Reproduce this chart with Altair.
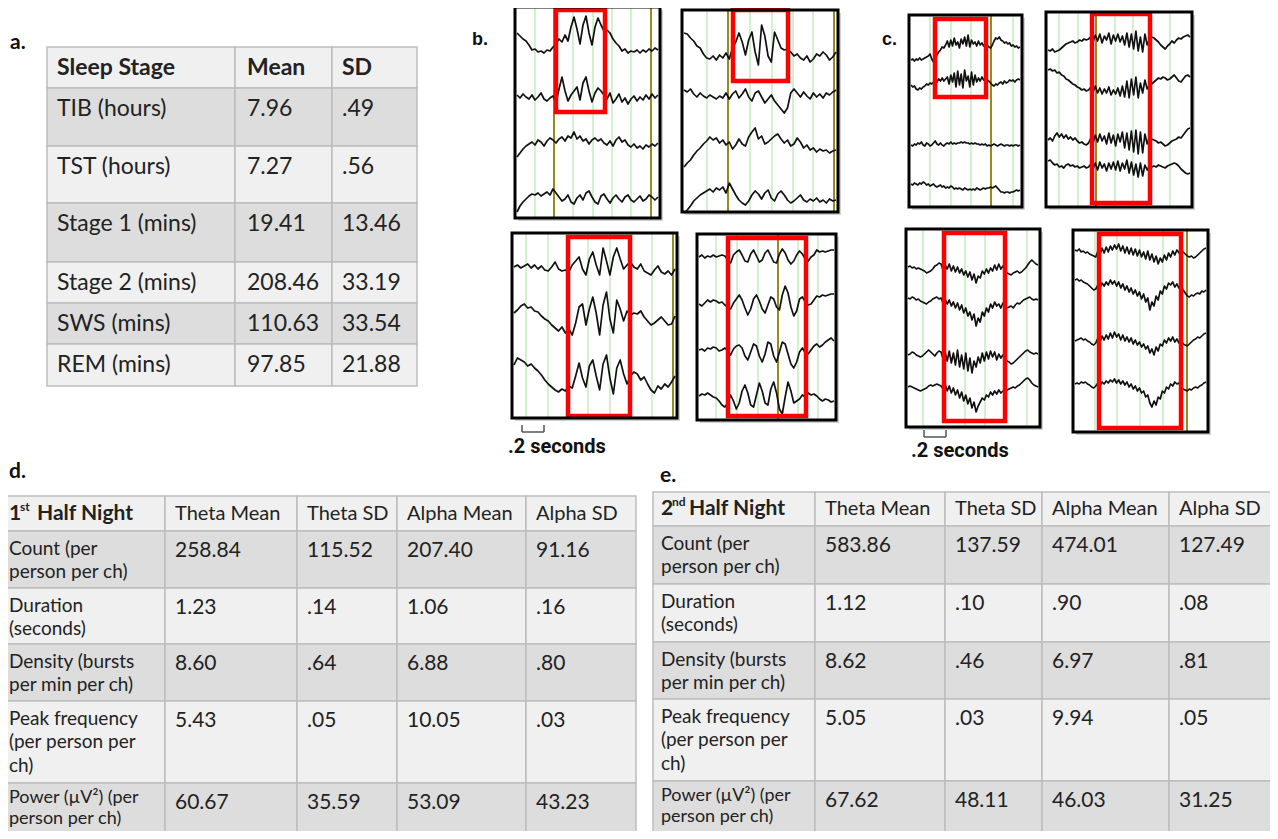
import altair as alt
import pandas as pd
import numpy as np

# ---------------- data: tables ----------------
stage_names = ["TIB (hours)", "TST (hours)", "Stage 1 (mins)", "Stage 2 (mins)", "SWS (mins)", "REM (mins)"]
stage_means = ["7.96", "7.27", "19.41", "208.46", "110.63", "97.85"]
stage_sds = [".49", ".56", "13.46", "33.19", "33.54", "21.88"]
table_a_header = ["Sleep Stage", "Mean", "SD"]

burst_header = ["Theta Mean", "Theta SD", "Alpha Mean", "Alpha SD"]
burst_metrics = ["Count (per\nperson per ch)", "Duration\n(seconds)", "Density (bursts\nper min per ch)",
                 "Peak frequency\n(per person per\nch)", "Power (\u00b5V\u00b2) (per\nperson per ch)"]
h1_theta_mean = ["258.84", "1.23", "8.60", "5.43", "60.67"]
h1_theta_sd = ["115.52", ".14", ".64", ".05", "35.59"]
h1_alpha_mean = ["207.40", "1.06", "6.88", "10.05", "53.09"]
h1_alpha_sd = ["91.16", ".16", ".80", ".03", "43.23"]
h2_theta_mean = ["583.86", "1.12", "8.62", "5.05", "67.62"]
h2_theta_sd = ["137.59", ".10", ".46", ".03", "48.11"]
h2_alpha_mean = ["474.01", ".90", "6.97", "9.94", "46.03"]
h2_alpha_sd = ["127.49", ".08", ".81", ".05", "31.25"]

# ---------------- data: EEG traces (amplitude, positive = up) ----------------
bTL_1 = [14,11,8,6,2,-3,-2,-5,-4,-6,-3,-4,0,3,8,5,12,6,20,30,18,3,22,31,14,2,20,29,22,16,17,14,8,4,1,-4,-2,-6,-4,-5,-3,-6,-3,-5,-2,-4,-1,-3]
bTL_2 = [2,-1,3,0,-2,2,-3,0,4,-2,-4,-1,1,-6,8,20,6,-4,2,6,10,-3,14,20,6,-5,4,9,6,2,-2,4,-6,-2,3,-5,-1,-7,-2,1,-4,0,-3,2,-2,3,-1,2]
bTL_3 = [-14,-10,-6,-3,-1,1,-2,3,1,-3,2,5,3,0,4,6,2,7,5,11,4,7,2,4,-1,3,5,2,4,0,-2,2,-3,3,6,1,3,-2,-4,-1,-5,-3,-6,-2,-4,-1,-3,0]
bTL_4 = [-14,-8,-4,-1,2,4,3,5,2,4,6,3,9,5,1,-3,-1,3,-4,-6,0,3,-2,5,7,1,-4,-6,2,4,-1,-5,0,3,-1,-4,1,3,-2,-4,-1,2,-3,-1,3,1,-2,1]

bTR_1 = [17,16,12,9,4,2,-4,-8,-9,-6,-10,-5,-8,-3,-9,2,8,17,8,-5,10,18,-2,-15,25,14,-6,-12,18,10,2,0,1,-2,-6,-4,-8,-10,-6,-12,-9,-4,-6,-2,-5,-10,-7,-2]
bTR_2 = [5,3,6,1,-2,2,-1,-3,0,-2,-4,-1,-3,2,-4,1,4,-3,1,6,-2,-6,2,4,-2,-8,-4,0,-6,-10,-14,-18,-13,2,6,2,-2,3,-1,-4,2,-2,1,-3,2,0,3,5]
bTR_3 = [-20,-16,-13,-8,-4,-1,3,6,10,7,9,4,7,2,5,-2,2,8,3,1,10,15,19,8,11,3,5,8,11,13,8,4,7,1,3,9,5,-1,2,-3,-1,-5,-2,-4,-3,-6,-4,-3]
bTR_4 = [-16,-13,-9,-4,-1,2,4,6,8,5,9,7,10,4,14,8,2,-3,-6,-8,-4,2,6,3,-2,4,7,-1,-4,3,6,2,-3,-6,-4,-1,2,-3,-5,-2,-4,-1,-5,-3,-6,-2,-4,-3]

bBL_1 = [0,2,-1,1,3,-1,2,-2,1,-3,-4,0,5,-2,-4,-3,-5,2,6,10,-2,-8,8,15,2,-8,19,6,-8,10,19,8,-2,2,5,0,-2,3,-4,-6,-8,-3,1,-5,-7,-4,-8,-2]
bBL_2 = [2,5,9,11,7,8,4,3,-1,-4,-6,-10,-13,-16,-12,-18,-14,-20,-8,8,11,-10,6,18,2,-20,10,23,-4,-18,15,6,-6,4,0,2,1,4,-2,-6,-10,-8,-5,-2,-6,-10,-9,-1]
bBL_3 = [7,14,12,10,6,8,4,1,-3,-8,-12,-15,-18,-20,-17,-19,-14,-16,-4,9,-6,-15,6,12,-4,-18,8,17,-6,-22,4,12,-2,-12,-4,0,-2,-8,-5,-12,-18,-21,-14,-17,-12,-15,-10,-4]

bBR_1 = [0,2,-1,1,0,2,0,1,2,1,-3,-6,2,5,7,2,-4,-5,3,7,1,-5,-3,4,7,1,-5,-6,3,8,4,-3,-7,-4,2,6,3,-2,-4,0,2,7,5,6,5,6,7,7]
bBR_2 = [-1,-3,0,3,1,3,2,0,1,-2,-4,-6,0,4,8,3,-5,-12,-6,4,8,2,-6,-10,-2,6,4,-4,-7,8,17,10,-4,-13,-8,4,6,1,-2,-1,3,7,6,8,7,8,9,9]
bBR_3 = [0,1,-1,2,1,3,2,-1,0,2,-1,-5,1,4,5,2,-6,-10,-2,6,4,-6,-12,-4,8,6,-6,-12,-2,8,6,-4,-14,-18,-12,-2,2,-3,-4,0,4,6,3,5,8,10,12,9]
bBR_4 = [1,3,2,4,2,0,-1,-4,-8,-10,-6,2,-4,-12,-6,6,12,4,-8,-10,2,14,6,-6,-8,8,15,4,-12,-17,0,15,6,-6,-4,-2,2,0,4,2,3,1,-2,-4,-2,-3,-5,-4]

cTL_1 = [-5,-4,-6,-4,-5,-3,-5,-4,-3,-2,-1,1,-4,-7,-3,0,3,5,8,7,10,14,8,15,9,17,10,13,7,16,11,18,9,20,8,15,11,13,9,14,10,12,9,11,10,8,7,10,14,17,16,18,15,14,12,13,11,12,9,10,8,9,7,8]
cTL_2 = [-2,-4,-3,-6,-7,-5,-6,-4,-3,-1,-2,0,-1,1,3,1,4,2,5,2,4,6,-1,8,1,10,-4,12,-2,9,-5,13,2,7,-4,11,-2,8,1,5,2,6,3,4,3,2,0,-2,-3,-1,-2,0,1,-1,2,0,1,3,2,3,1,3,4,3]
cTL_3 = [0,-1,1,0,2,1,3,0,-1,2,1,-1,0,2,4,1,0,2,0,-1,1,2,1,3,1,2,1,2,2,3,2,3,2,2,1,2,1,2,1,1,0,1,0,1,-1,0,-1,0,1,0,-1,0,1,0,-1,0,0,-1,0,-1,0,0,-1,0]
cTL_4 = [3,2,4,3,2,4,3,5,4,2,3,1,2,3,1,0,1,2,0,1,-1,0,-1,1,0,-2,-1,-2,-1,-2,-3,-1,-2,-3,-2,-3,-2,-3,-1,-2,-3,-2,-1,-2,-1,-1,0,-1,0,1,-1,-3,-5,-5,-6,-5,-5,-6,-5,-5,-4,-3,-4,-3]

cTR_1 = [-7,-8,-6,-9,-8,-7,-5,-3,-1,0,1,2,0,1,3,2,4,3,4,6,1,8,2,9,0,7,3,10,-1,8,2,9,1,7,-2,10,-4,9,-6,12,-8,6,-9,9,-2,4,6,5,3,1,-2,-4,-6,-3,-1,2,0,3,5,4,6,7,8,6]
cTR_2 = [13,14,12,13,10,11,8,7,4,3,1,-1,-2,-4,-5,-7,-6,-8,-7,-4,-9,-3,-10,-5,-11,-6,-10,-4,-12,-7,-11,-5,-13,-3,-14,2,-15,4,-12,6,-15,0,-10,3,-6,-2,-1,1,3,5,4,6,5,3,4,6,8,5,2,1,4,7,8,6]
cTR_3 = [0,2,-1,4,7,3,6,2,5,1,3,0,2,-1,-3,-2,-4,-5,-3,2,-3,5,-2,6,-1,4,-4,7,-3,5,-6,6,-2,8,-8,7,-10,9,-12,10,-14,8,-13,6,-4,3,1,0,-1,-3,-2,-4,-6,-5,-3,-1,0,1,3,2,5,8,11,12]
cTR_4 = [6,7,4,2,3,0,1,-1,2,3,1,2,0,1,-1,0,1,-1,0,3,-2,4,-3,5,-1,3,-4,4,-2,5,-3,6,-4,4,-2,7,-6,5,-8,3,-10,4,-9,2,-3,1,0,1,0,2,1,0,-1,1,2,3,4,3,1,-2,-4,-6,-7,-6]

cBL_1 = [1,2,0,1,-1,0,-1,-2,-3,-5,-4,-3,-1,2,3,5,4,-2,3,-1,4,-3,2,-4,1,-5,-1,-7,-3,-9,-4,-12,-6,-15,-8,-10,-3,-6,-1,-5,0,-3,3,-2,4,-1,2,-3,-5,-6,-7,-5,-4,-3,-5,-4,-2,0,3,6,8,6,4,3]
cBL_2 = [2,1,3,2,0,1,-1,-2,-3,-4,-2,-1,1,2,3,1,2,-3,1,-4,0,-6,-2,-8,-3,-10,-5,-13,-8,-16,-12,-20,-14,-26,-18,-22,-12,-16,-8,-12,-4,-8,-2,-6,-4,-8,-3,-6,-8,-7,-6,-8,-5,-3,-4,-2,0,1,2,3,1,0,1,0]
cBL_3 = [0,1,3,2,0,-1,-2,-1,1,3,5,3,1,-1,2,4,3,-4,3,-6,4,-8,2,-10,5,-12,0,-14,2,-16,-3,-18,-6,-12,-2,-8,2,-6,3,-4,4,-2,3,-5,1,-3,0,-4,-6,-7,-9,-8,-6,-4,-2,0,2,4,5,3,2,1,2,1]
cBL_4 = [-1,0,-1,-2,-3,-4,-5,-4,-3,-2,0,1,0,1,2,1,0,-3,2,-5,0,-7,-2,-9,-4,-12,-6,-15,-9,-18,-12,-22,-16,-26,-20,-16,-12,-14,-9,-11,-6,-9,-5,-8,-4,-7,-5,-6,-4,-3,-2,-1,-2,0,1,3,5,7,8,6,3,1,0,-1]

cBR_1 = [2,1,3,0,1,-1,0,-2,-3,-4,-5,1,-3,4,-1,5,0,6,2,7,3,8,1,6,-1,5,-2,4,-3,3,-4,2,-5,0,-7,1,-8,-2,-10,-4,-12,-6,-10,-3,-8,-1,-5,1,-3,2,-1,3,0,-2,-4,-5,-4,-6,-5,-3,-1,1,3,4]
cBR_2 = [2,3,1,2,0,-1,-2,-4,-6,-8,-7,-3,-6,-1,-4,0,-3,2,-2,1,-4,0,-6,-2,-8,-4,-10,-6,-12,-8,-14,-10,-17,-12,-20,-16,-28,-20,-24,-14,-18,-9,-12,-4,-7,-1,-3,0,-5,-2,-6,-4,-8,-11,-14,-15,-13,-14,-12,-11,-12,-9,-10,-8]
cBR_3 = [-1,0,1,2,0,1,-1,-2,-4,-5,-3,2,-2,4,0,5,1,7,2,8,3,6,0,5,-1,3,-2,2,-4,0,-5,-2,-7,-4,-9,-6,-13,-9,-15,-7,-11,-4,-6,0,-3,2,-1,3,-2,1,-3,0,-4,-5,-6,-4,-2,0,1,3,2,4,6,7]
cBR_4 = [1,2,1,3,2,3,1,0,-2,-3,-1,2,-1,3,1,4,2,5,3,6,2,5,1,4,0,3,-2,1,-4,-1,-6,-3,-8,-6,-12,-10,-18,-22,-16,-20,-12,-14,-6,-8,-2,-4,1,-1,3,1,2,-2,-4,-5,-6,-4,-5,-3,-2,-3,-1,0,2,3]

# ---------------- layout (positions / styles) ----------------
W, H = 1262, 823
XS = alt.Scale(domain=[8, 8 + W], nice=False, zero=False)
YS = alt.Scale(domain=[8, 8 + H], nice=False, zero=False, reverse=True)
FONT = "Lato"
TXT = "#222222"
DARK, LIGHT = "#dddddd", "#f0f0f0"
Y_LIMIT = 820  # keep the last wrapped line inside the page


def X(f="x"):
    return alt.X(f"{f}:Q", scale=XS, axis=None)


def Y(f="y"):
    return alt.Y(f"{f}:Q", scale=YS, axis=None)


cells, texts_reg, texts_bold = [], [], []

# table a
cols_a = [47, 235, 332, 417]
rows_a = [47, 88, 146, 203, 262, 303, 344, 386]
for r in range(len(rows_a) - 1):
    fill = LIGHT if r == 0 else (DARK if r % 2 == 1 else LIGHT)
    for c in range(3):
        cells.append(dict(x=cols_a[c], x2=cols_a[c + 1], y=rows_a[r], y2=rows_a[r + 1], fill=fill))
a_pad = [10, 12, 10]
for c, h in enumerate(table_a_header):
    texts_bold.append(dict(x=cols_a[c] + a_pad[c], y=rows_a[0] + 20.5, t=h, fs=23, c=TXT))
for r, row in enumerate(zip(stage_names, stage_means, stage_sds)):
    for c, v in enumerate(row):
        texts_reg.append(dict(x=cols_a[c] + a_pad[c], y=rows_a[r + 1] + 20.5, t=v, fs=23, c=TXT))


def burst_table(cols, rows, first, sup, tm, tsd, am, asd):
    for r in range(len(rows) - 1):
        fill = LIGHT if r == 0 else (DARK if r % 2 == 1 else LIGHT)
        for c in range(5):
            cells.append(dict(x=cols[c], x2=cols[c + 1], y=rows[r], y2=rows[r + 1], fill=fill))
    hy = (rows[0] + rows[1]) / 2
    texts_bold.append(dict(x=cols[0] + 8, y=hy, t=first, fs=21, c=TXT))
    texts_bold.append(dict(x=cols[0] + 19, y=hy - 7, t=sup, fs=12, c=TXT))
    texts_bold.append(dict(x=cols[0] + 36, y=hy, t="Half Night", fs=21, c=TXT))
    for c, h in enumerate(burst_header):
        texts_reg.append(dict(x=cols[c + 1] + 10, y=hy, t=h, fs=20, c=TXT))
    for r in range(5):
        top = rows[r + 1]
        lines = burst_metrics[r].split("\n")
        first_off, step, fs = 17.5, 23.5, 19
        if top + first_off + step * (len(lines) - 1) > Y_LIMIT:
            first_off, step, fs = 15, 21, 18
        for k, line in enumerate(lines):
            texts_reg.append(dict(x=cols[0] + 8, y=top + first_off + step * k, t=line, fs=fs, c=TXT))
        for c, arr in enumerate([tm, tsd, am, asd]):
            texts_reg.append(dict(x=cols[c + 1] + 10, y=top + 20, t=arr[r], fs=21, c=TXT))


burst_table([1, 165, 297, 397, 526, 636], [496, 531, 588, 644, 701, 783, 862], "1", "st",
            h1_theta_mean, h1_theta_sd, h1_alpha_mean, h1_alpha_sd)
burst_table([653, 815, 945, 1042, 1169, 1290], [492, 526, 584, 642, 699, 781, 838], "2", "nd",
            h2_theta_mean, h2_theta_sd, h2_alpha_mean, h2_alpha_sd)

texts_bold += [dict(x=10, y=43, t="a.", fs=21, c="#111"),
               dict(x=9, y=472, t="d.", fs=21, c="#111"),
               dict(x=660, y=476, t="e.", fs=21, c="#111")]
arial_bold = [dict(x=472, y=40, t="b.", fs=18, c="#111"),
              dict(x=882, y=40, t="c.", fs=18, c="#111")]
roboto_bold = [dict(x=508, y=447, t=".2 seconds", fs=20, c="#111"),
               dict(x=911, y=451, t=".2 seconds", fs=20, c="#111")]

# EEG panels
panels = [
    dict(f=(515, 660, 7, 218), red=(554, 607, 8, 114), green=[535, 573, 593, 612, 631], olive=[554, 651],
         base=[47, 97, 143, 198], tr=[bTL_1, bTL_2, bTL_3, bTL_4]),
    dict(f=(682, 838, 10, 212), red=(731, 790, 8, 83), green=[707, 750, 772, 793, 813], olive=[728, 834],
         base=[50, 95, 147, 197], tr=[bTR_1, bTR_2, bTR_3, bTR_4]),
    dict(f=(512, 677, 233, 418), red=(566, 632, 235, 418), green=[526, 548, 588, 610, 652], olive=[673],
         base=[267, 315, 372], tr=[bBL_1, bBL_2, bBL_3]),
    dict(f=(697, 836, 234, 420), red=(726, 808, 236, 418), green=[716, 737, 758, 798, 818], olive=[778],
         base=[257, 303, 350, 397], tr=[bBR_1, bBR_2, bBR_3, bBR_4]),
    dict(f=(909, 1022, 15, 207), red=(933, 988, 17, 99), green=[930, 951, 971, 1013], olive=[991],
         base=[55, 83, 145, 187], tr=[cTL_1, cTL_2, cTL_3, cTL_4]),
    dict(f=(1046, 1192, 12, 207), red=(1090, 1152, 12, 205), green=[1059, 1078, 1115, 1133, 1170], olive=[1096],
         base=[43, 83, 140, 167], tr=[cTR_1, cTR_2, cTR_3, cTR_4]),
    dict(f=(906, 1040, 229, 427), red=(942, 1007, 231, 423), green=[923, 965, 985, 1027], olive=[],
         base=[268, 300, 355, 386], tr=[cBL_1, cBL_2, cBL_3, cBL_4]),
    dict(f=(1073, 1208, 230, 432), red=(1097, 1183, 232, 430), green=[1095, 1117, 1140, 1163], olive=[1187],
         base=[252, 282, 340, 385], tr=[cBR_1, cBR_2, cBR_3, cBR_4]),
]

frames, shadows, reds, vlines, traces = [], [], [], [], []
for p, P in enumerate(panels):
    x0, x1, y0, y1 = P["f"]
    frames.append(dict(x=x0, x2=x1, y=y0, y2=y1))
    shadows.append(dict(x=x0 + 3, x2=x1 + 3, y=y0 + 3, y2=y1 + 3))
    rx0, rx1, ry0, ry1 = P["red"]
    reds.append(dict(x=rx0 + 2, x2=rx1 - 2, y=ry0 + 2, y2=ry1 - 2))
    for gx in P["green"]:
        vlines.append(dict(x=gx, y=y0 + 1, y2=y1 - 1, col="#c6efc0", w=1.6))
    for ox in P["olive"]:
        vlines.append(dict(x=ox, y=y0 + 1, y2=y1 - 1, col="#9a8a1c", w=2.0))
    for k, (b, vals) in enumerate(zip(P["base"], P["tr"])):
        xs = np.linspace(x0 + 2, x1 - 2, len(vals))
        for i, (xx, v) in enumerate(zip(xs, vals)):
            traces.append(dict(tid=f"{p}_{k}", i=i, x=float(xx), y=b - v))

# scale-bar brackets
brackets = []
for bx0, bx1, by0, by1 in [(522, 544, 425, 432), (924, 946, 430, 437)]:
    brackets += [dict(x=bx0, x2=bx0, y=by0, y2=by1), dict(x=bx0, x2=bx1, y=by1, y2=by1),
                 dict(x=bx1, x2=bx1, y=by0, y2=by1)]

# ---------------- layers ----------------
def rect_layer(rows, **kw):
    return alt.Chart(pd.DataFrame(rows)).mark_rect(**kw).encode(
        x=X("x"), x2=alt.X2("x2:Q"), y=Y("y"), y2=alt.Y2("y2:Q"))


def text_layer(rows, font, weight):
    return alt.Chart(pd.DataFrame(rows)).mark_text(
        align="left", baseline="middle", font=font, fontWeight=weight).encode(
        x=X("x"), y=Y("y"), text="t:N",
        size=alt.Size("fs:Q", scale=None), color=alt.Color("c:N", scale=None))


cell_layer = alt.Chart(pd.DataFrame(cells)).mark_rect(stroke="#bdbdbd", strokeWidth=1.5).encode(
    x=X("x"), x2=alt.X2("x2:Q"), y=Y("y"), y2=alt.Y2("y2:Q"), fill=alt.Fill("fill:N", scale=None))

shadow_layer = rect_layer(shadows, fill="#9a9a9a", opacity=0.45)
bg_layer = rect_layer(frames, fill="white")
vline_layer = alt.Chart(pd.DataFrame(vlines)).mark_rule().encode(
    x=X("x"), y=Y("y"), y2=alt.Y2("y2:Q"),
    color=alt.Color("col:N", scale=None), strokeWidth=alt.StrokeWidth("w:Q", scale=None))
trace_layer = alt.Chart(pd.DataFrame(traces)).mark_line(
    color="#111111", strokeWidth=1.7, strokeJoin="round").encode(
    x=X("x"), y=Y("y"), detail="tid:N", order="i:Q")
red_layer = rect_layer(reds, fillOpacity=0, stroke="#ff0000", strokeWidth=4.5)
frame_layer = rect_layer(frames, fillOpacity=0, stroke="#000000", strokeWidth=3)
bracket_layer = alt.Chart(pd.DataFrame(brackets)).mark_rule(color="#4a5a5a", strokeWidth=1.5).encode(
    x=X("x"), x2=alt.X2("x2:Q"), y=Y("y"), y2=alt.Y2("y2:Q"))

chart = alt.layer(
    cell_layer, shadow_layer, bg_layer, vline_layer, trace_layer, red_layer, frame_layer, bracket_layer,
    text_layer(texts_reg, FONT, "normal"),
    text_layer(texts_bold, FONT, "bold"),
    text_layer(arial_bold, "Liberation Sans", "bold"),
    text_layer(roboto_bold, "Roboto", "bold"),
).properties(
    width=W, height=H, padding=0, autosize=alt.AutoSizeParams(type="none")
).configure_view(stroke=None)

chart.save("out.html", embed_options={"renderer": "svg", "actions": False})
